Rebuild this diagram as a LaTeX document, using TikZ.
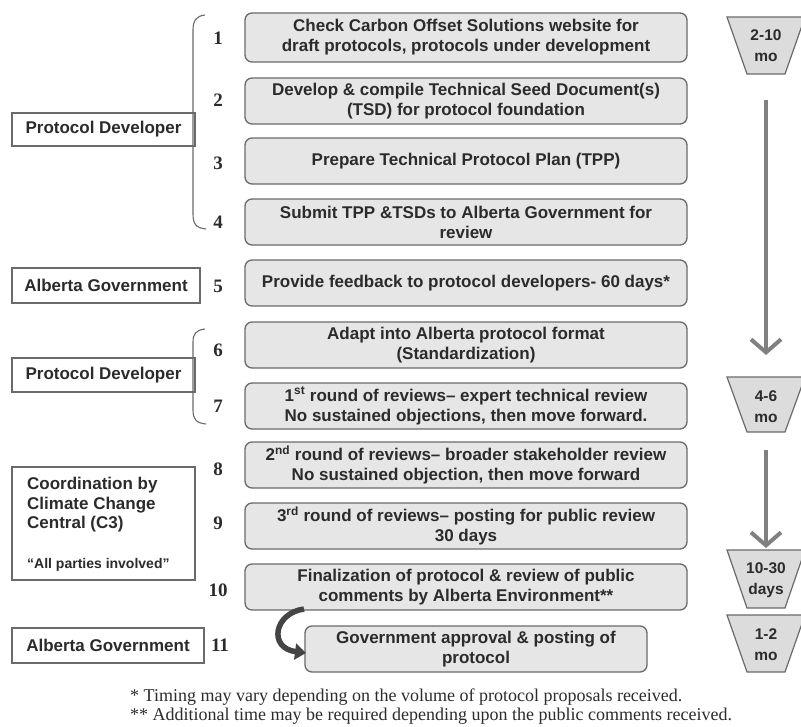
\documentclass[tikz,border=0pt]{standalone}
\usepackage{fontspec}
\setmainfont{Liberation Serif}
\setsansfont{Liberation Sans}
\usetikzlibrary{arrows.meta}
\definecolor{boxfill}{HTML}{E6E6E6}
\definecolor{boxline}{HTML}{6A6A6A}
\definecolor{txt}{HTML}{2B2B2B}
\definecolor{arrowgray}{HTML}{808080}
\definecolor{trapfill}{HTML}{DCDCDC}
\definecolor{curvegray}{HTML}{444444}
\tikzset{
  stepbox/.style={draw=boxline, line width=1.3pt, fill=boxfill, rounded corners=7pt,
    minimum width=442pt, minimum height=46pt, inner sep=0pt, align=center, text=txt,
    font=\sffamily\bfseries\fontsize{17}{20}\selectfont},
  numlbl/.style={text=txt, inner sep=0pt, font=\rmfamily\bfseries\fontsize{19}{19}\selectfont},
  rolebox/.style={draw=boxline, line width=1.4pt, fill=white, inner sep=0pt, text=txt,
    font=\sffamily\bfseries\fontsize{17}{19}\selectfont},
  trap/.style={draw=boxline, line width=1.2pt, fill=trapfill},
  traptext/.style={align=center, inner sep=0pt, text=txt,
    font=\sffamily\bfseries\fontsize{15.5}{21}\selectfont},
  brace/.style={draw=boxline, line width=1.1pt},
  timearrow/.style={draw=arrowgray, line width=4pt, -{Straight Barb[length=13pt,width=30pt]}},
  curvearrow/.style={draw=curvegray, line width=5.5pt, -{Triangle[length=11pt,width=16pt]}},
  footnote/.style={anchor=base west, inner sep=0pt, text=txt, font=\rmfamily\fontsize{18}{19}\selectfont}
}
\begin{document}
\begin{tikzpicture}[x=1pt,y=-1pt]
\useasboundingbox (0,0) rectangle (801,726);
\begin{scope}
\clip (0,0) rectangle (801,726);

% step boxes
\node[stepbox] (b1) at (466,37.5) [minimum height=49pt] {Check Carbon Offset Solutions website for\\draft protocols, protocols under development};
\node[stepbox] (b2) at (466,101) {Develop \& compile Technical Seed Document(s)\\(TSD) for protocol foundation};
\node[stepbox] (b3) at (466,161) {Prepare Technical Protocol Plan (TPP)};
\node[stepbox] (b4) at (466,222) {Submit TPP \&TSDs to Alberta Government for\\review};
\node[stepbox] (b5) at (466,283) {Provide feedback to protocol developers- 60 days*};
\node[stepbox] (b6) at (466,345) {Adapt into Alberta protocol format\\(Standardization)};
\node[stepbox] (b7) at (466,406) {1\textsuperscript{st} round of reviews\textendash{} expert technical review\\No sustained objections, then move forward.};
\node[stepbox] (b8) at (466,465) {2\textsuperscript{nd} round of reviews\textendash{} broader stakeholder review\\No sustained objection, then move forward};
\node[stepbox] (b9) at (466,526) {3\textsuperscript{rd} round of reviews\textendash{} posting for public review\\30 days};
\node[stepbox] (b10) at (466,587) {Finalization of protocol \& review of public\\comments by Alberta Environment**};
\node[stepbox, minimum width=342pt] (b11) at (476,649) {Government approval \& posting of\\protocol};

% numbers
\node[numlbl] (n1) at (218,38) {1};
\node[numlbl] (n2) at (218,100) {2};
\node[numlbl] (n3) at (218,163) {3};
\node[numlbl] (n4) at (218,222) {4};
\node[numlbl] (n5) at (218,286) {5};
\node[numlbl] (n6) at (218,350) {6};
\node[numlbl] (n7) at (218,406) {7};
\node[numlbl] (n8) at (218,469) {8};
\node[numlbl] (n9) at (218,523) {9};
\node[numlbl] (n10) at (218,590) {10};
\node[numlbl] (n11) at (220,645) {11};

% role boxes
\node[rolebox, minimum width=183pt, minimum height=33pt] (r1) at (103.5,129.5) {Protocol Developer};
\node[rolebox, minimum width=188pt, minimum height=35pt] (r2) at (106,285.5) {Alberta Government};
\node[rolebox, minimum width=183pt, minimum height=34pt] (r3) at (103.5,375) {Protocol Developer};
\node[rolebox, minimum width=183pt, minimum height=113pt] (r4) at (103.5,523.5) {};
\node[anchor=north west, align=left, inner sep=0pt, text=txt,
  font=\sffamily\bfseries\fontsize{17}{19.5}\selectfont] (r4a) at (27,477) {Coordination by\\Climate Change\\Central (C3)};
\node[anchor=west, inner sep=0pt, text=txt,
  font=\sffamily\bfseries\fontsize{14}{15}\selectfont] (r4b) at (27,565) {``All parties involved''};
\node[rolebox, minimum width=192pt, minimum height=35pt] (r5) at (108,645.5) {Alberta Government};

% braces
\draw[brace] (205,15) .. controls (196,16) and (193,21) .. (193,30) -- (193,214) .. controls (193,224) and (196,228) .. (206,229);
\draw[brace] (205,329) .. controls (196,330) and (193,334) .. (193,342) -- (193,410) .. controls (193,419) and (196,423) .. (206,424);

% time trapezoids
\draw[trap] (727,17) -- (805,17) -- (785,74) -- (747,74) -- cycle;
\node[traptext] (t1) at (766,46) {2-10\\mo};
\draw[trap] (727,377) -- (805,377) -- (785,432) -- (747,432) -- cycle;
\node[traptext] (t2) at (766,407) {4-6\\mo};
\draw[trap] (727,550) -- (805,550) -- (785,608) -- (747,608) -- cycle;
\node[traptext] (t3) at (766,580) {10-30\\days};
\draw[trap] (727,615) -- (805,615) -- (785,672) -- (747,672) -- cycle;
\node[traptext] (t4) at (766,645) {1-2\\mo};

% time arrows
\coordinate (a1s) at (766,100);
\coordinate (a1e) at (766,355);
\coordinate (a2s) at (766,450);
\coordinate (a2e) at (766,548);
\draw[timearrow] (a1s) -- (a1e);
\draw[timearrow] (a2s) -- (a2e);

% curved arrow
\coordinate (c10) at (304,609);
\coordinate (c11) at (306,653);
\draw[curvearrow] (c10) .. controls (274,613) and (268,648) .. (c11);

% footnotes
\node[footnote] (fn1) at (130,701) {* Timing may vary depending on the volume of protocol proposals received.};
\node[footnote] (fn2) at (130,720) {** Additional time may be required depending upon the public comments received.};
\end{scope}
\end{tikzpicture}
\end{document}
